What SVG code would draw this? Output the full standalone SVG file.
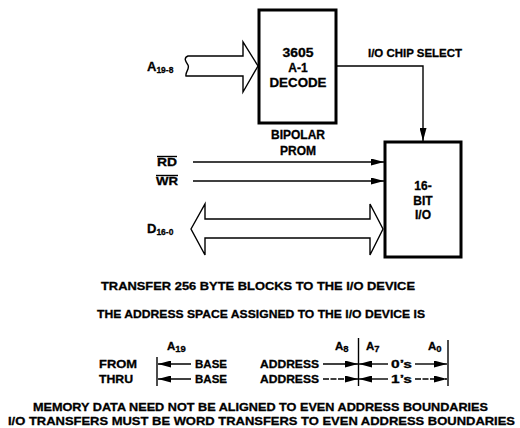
<svg xmlns="http://www.w3.org/2000/svg" width="520" height="428" viewBox="0 0 520 428">
<defs>
<marker id="ah" viewBox="0 0 13 7" refX="13" refY="3.5" markerWidth="13" markerHeight="7" markerUnits="userSpaceOnUse" orient="auto">
<path d="M0,0 L13,3.5 L0,7 z" fill="#000"/>
</marker>
</defs>
<style>
text{font-family:"Liberation Sans",Arial,sans-serif;font-weight:bold;font-size:11.5px;fill:#000;stroke:#000;stroke-width:0.3}
.c{text-anchor:middle}
.big{font-size:12px}
.lbl{font-size:13px}
.sub{font-size:9.5px}
.box{fill:#fff;stroke:#000;stroke-width:3}
.bus{fill:#fff;stroke:#000;stroke-width:1.4;stroke-linejoin:miter}
.ln{fill:none;stroke:#000;stroke-width:1.4}
</style>
<rect width="520" height="428" fill="#fff"/>

<g id="prom">
<rect class="box" x="259" y="10" width="77" height="113"/>
<text class="c big" x="298" y="57" textLength="31" lengthAdjust="spacingAndGlyphs">3605</text>
<text class="c big" x="298" y="72">A-1</text>
<text class="c big" x="298" y="87" textLength="57" lengthAdjust="spacingAndGlyphs">DECODE</text>
<text class="c big" x="298" y="139" textLength="54" lengthAdjust="spacingAndGlyphs">BIPOLAR</text>
<text class="c big" x="298" y="155" textLength="36" lengthAdjust="spacingAndGlyphs">PROM</text>
</g>

<g id="io">
<rect class="box" x="385" y="142" width="76" height="115"/>
<text class="c big" x="423" y="190">16-</text>
<text class="c big" x="423" y="205">BIT</text>
<text class="c big" x="423" y="219">I/O</text>
</g>

<g id="labels">
<text class="lbl" x="147" y="71">A<tspan class="sub" dy="2" textLength="17" lengthAdjust="spacingAndGlyphs">19-8</tspan></text>
<text x="157" y="166" textLength="20" lengthAdjust="spacingAndGlyphs">RD</text>
<line class="ln" x1="157" y1="156.5" x2="177" y2="156.5" stroke-width="1.2"/>
<text x="156" y="185" textLength="22" lengthAdjust="spacingAndGlyphs">WR</text>
<line class="ln" x1="156" y1="175.5" x2="178" y2="175.5" stroke-width="1.2"/>
<text class="lbl" x="147" y="233">D<tspan class="sub" dy="2" textLength="17" lengthAdjust="spacingAndGlyphs">16-0</tspan></text>
<text x="368" y="57" textLength="94" lengthAdjust="spacingAndGlyphs">I/O CHIP SELECT</text>
</g>

<g id="connectors">
<path class="bus" d="M243,56 L188,56 C183,58 186,62 188,65 C190,69 185,72 186,76 L243,76 L243,92 L258,66 L243,42 Z"/>
<path class="bus" d="M191,229 L205,204 L205,219 L370,219 L370,204 L383,229 L370,255 L370,238 L205,238 L205,255 Z"/>
<path class="ln" d="M336,66 L423,66 L423,141" marker-end="url(#ah)"/>
<line class="ln" x1="193" y1="162" x2="384" y2="162" marker-end="url(#ah)"/>
<line class="ln" x1="193" y1="181" x2="384" y2="181" marker-end="url(#ah)"/>
</g>

<g id="notes">
<text x="101" y="290" textLength="314" lengthAdjust="spacingAndGlyphs">TRANSFER 256 BYTE BLOCKS TO THE I/O DEVICE</text>
<text x="97" y="318" textLength="328" lengthAdjust="spacingAndGlyphs">THE ADDRESS SPACE ASSIGNED TO THE I/O DEVICE IS</text>
</g>

<g id="table">
<text x="167" y="350">A<tspan class="sub" dy="2">19</tspan></text>
<text x="335" y="350">A<tspan class="sub" dy="2">8</tspan></text>
<text x="366" y="350">A<tspan class="sub" dy="2">7</tspan></text>
<text x="428" y="350">A<tspan class="sub" dy="2">0</tspan></text>
<text x="99" y="368" textLength="38" lengthAdjust="spacingAndGlyphs">FROM</text>
<text x="99" y="383" textLength="34" lengthAdjust="spacingAndGlyphs">THRU</text>
<line class="ln" x1="157" y1="357" x2="157" y2="386"/>
<line class="ln" x1="358.5" y1="338" x2="358.5" y2="386"/>
<line class="ln" x1="448" y1="340" x2="448" y2="386"/>
<text x="195" y="368" textLength="32" lengthAdjust="spacingAndGlyphs">BASE</text>
<text x="195" y="383" textLength="32" lengthAdjust="spacingAndGlyphs">BASE</text>
<text x="260" y="368" textLength="59" lengthAdjust="spacingAndGlyphs">ADDRESS</text>
<text x="260" y="383" textLength="59" lengthAdjust="spacingAndGlyphs">ADDRESS</text>
<text x="391" y="368" textLength="21" lengthAdjust="spacingAndGlyphs">0’s</text>
<text x="391" y="383" textLength="21" lengthAdjust="spacingAndGlyphs">1’s</text>
<line class="ln" x1="191" y1="364" x2="158" y2="364" marker-end="url(#ah)"/>
<line class="ln" x1="191" y1="379" x2="158" y2="379" marker-end="url(#ah)"/>
<line class="ln" x1="323" y1="364" x2="358" y2="364" marker-end="url(#ah)"/>
<line class="ln" x1="323" y1="379" x2="358" y2="379" stroke-dasharray="6 1.5" marker-end="url(#ah)"/>
<line class="ln" x1="388" y1="364" x2="359" y2="364" marker-end="url(#ah)"/>
<line class="ln" x1="388" y1="379" x2="359" y2="379" marker-end="url(#ah)"/>
<line class="ln" x1="415" y1="364" x2="447" y2="364" marker-end="url(#ah)"/>
<line class="ln" x1="415" y1="379" x2="447" y2="379" stroke-dasharray="6 1.5" marker-end="url(#ah)"/>
</g>

<g id="footer">
<text x="33" y="411" textLength="455" lengthAdjust="spacingAndGlyphs">MEMORY DATA NEED NOT BE ALIGNED TO EVEN ADDRESS BOUNDARIES</text>
<text x="8" y="425" textLength="507" lengthAdjust="spacingAndGlyphs">I/O TRANSFERS MUST BE WORD TRANSFERS TO EVEN ADDRESS BOUNDARIES</text>
</g>
</svg>
